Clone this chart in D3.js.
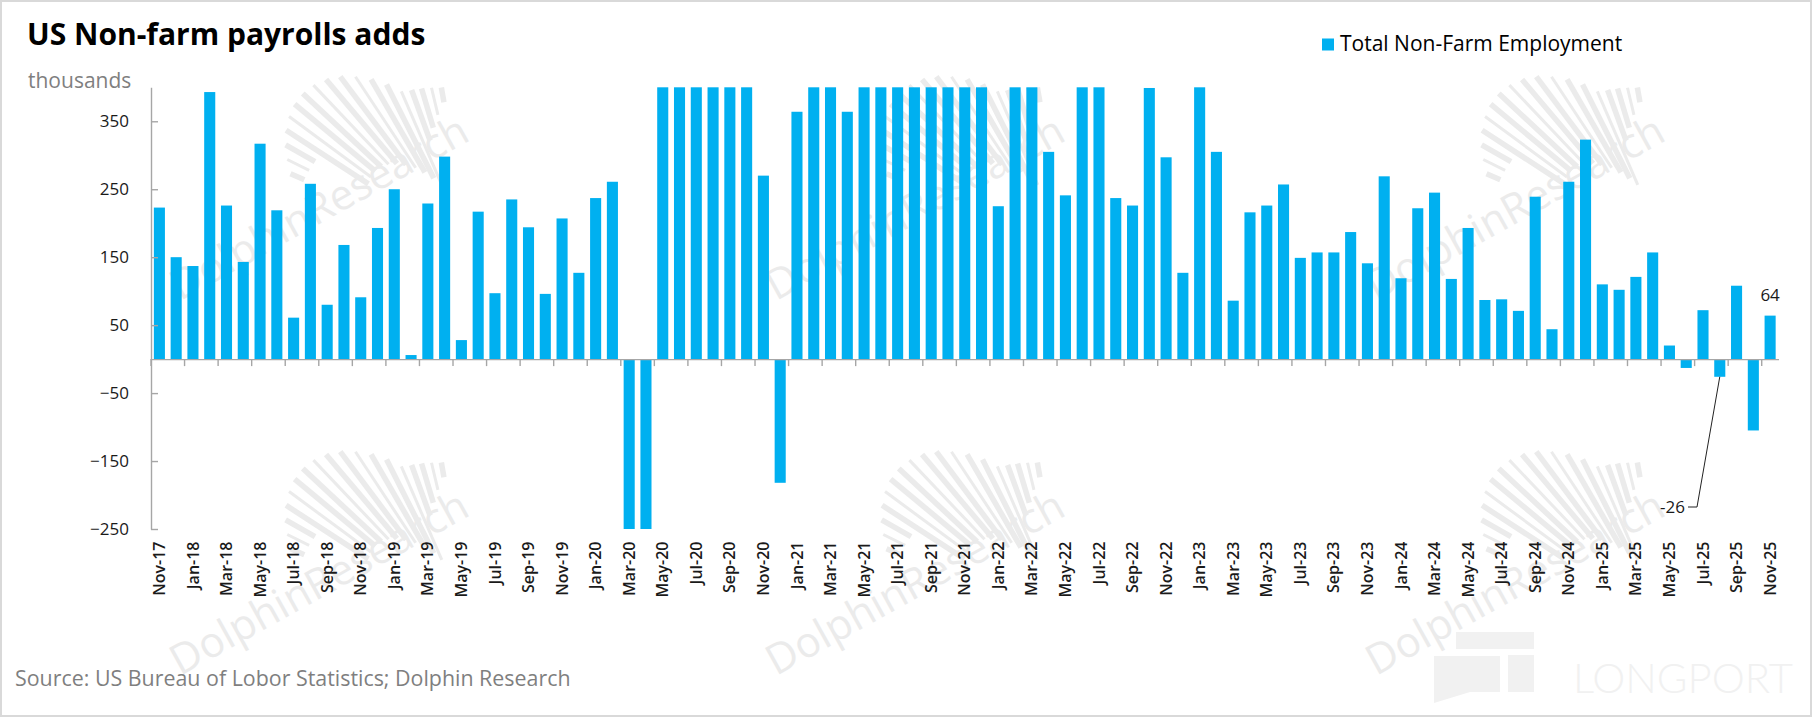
<!DOCTYPE html>
<html><head><meta charset="utf-8">
<script src="https://cdn.jsdelivr.net/npm/d3@7"></script>
<style>
body{margin:0;background:#fff;}
svg{display:block;font-family:"Open Sans",sans-serif;}
</style></head><body>
<svg id="chart" width="1812" height="717"></svg>
<script>
// ---------------- data ----------------
const categories = [
 "Nov-17","Dec-17",
 "Jan-18","Feb-18","Mar-18","Apr-18","May-18","Jun-18","Jul-18","Aug-18","Sep-18","Oct-18","Nov-18","Dec-18",
 "Jan-19","Feb-19","Mar-19","Apr-19","May-19","Jun-19","Jul-19","Aug-19","Sep-19","Oct-19","Nov-19","Dec-19",
 "Jan-20","Feb-20","Mar-20","Apr-20","May-20","Jun-20","Jul-20","Aug-20","Sep-20","Oct-20","Nov-20","Dec-20",
 "Jan-21","Feb-21","Mar-21","Apr-21","May-21","Jun-21","Jul-21","Aug-21","Sep-21","Oct-21","Nov-21","Dec-21",
 "Jan-22","Feb-22","Mar-22","Apr-22","May-22","Jun-22","Jul-22","Aug-22","Sep-22","Oct-22","Nov-22","Dec-22",
 "Jan-23","Feb-23","Mar-23","Apr-23","May-23","Jun-23","Jul-23","Aug-23","Sep-23","Oct-23","Nov-23","Dec-23",
 "Jan-24","Feb-24","Mar-24","Apr-24","May-24","Jun-24","Jul-24","Aug-24","Sep-24","Oct-24","Nov-24","Dec-24",
 "Jan-25","Feb-25","Mar-25","Apr-25","May-25","Jun-25","Jul-25","Aug-25","Sep-25","Oct-25","Nov-25"
];
// thousands; bars that run off the axis (Mar-20..Oct-20, most of 2021 etc.) are read as the axis limit (400 / -250)
const payrollAdds = [
 223,150,
 137,393,226,143,317,219,61,258,80,168,91,193,
 250,6,229,298,28,217,97,235,194,96,207,127,
 237,261,-250,-250,400,400,400,400,400,400,270,-182,
 364,400,400,364,400,400,400,400,400,400,400,400,
 225,400,400,305,241,400,400,237,226,399,297,127,
 400,305,86,216,226,257,149,157,157,187,141,269,
 119,222,245,118,193,87,88,71,239,44,261,323,
 110,102,121,157,20,-13,72,-26,108,-105,64
];
const yTickValues = [350,250,150,50,-50,-150,-250];
const yDomain = [-250,400];
const xTickLabels = categories.filter((d,i)=>i%2===0);
const seriesName = "Total Non-Farm Employment";
const titleText = "US Non-farm payrolls adds";
const unitText = "thousands";
const sourceText = "Source: US Bureau of Lobor Statistics; Dolphin Research";
const annotationCats = ["Aug-25","Nov-25"];
const annotationTexts = ["-26","64"];

// ---------------- layout ----------------
const W=1812,H=717;
const BLUE="#00B0F0", AXIS="#a6a6a6";
const svg=d3.select("#chart");
svg.append("rect").attr("width",W).attr("height",H).attr("fill","#fff");

const x=d3.scaleBand().domain(categories).range([151,1778.5]).paddingInner(0.34).paddingOuter(0.17);
const y=d3.scaleLinear().domain(yDomain).range([529,87.3]).clamp(true);

// ---------------- LONGPORT mark (behind everything) ----------------
const lp=svg.append("g").attr("fill","#f1f1f1");
lp.append("rect").attr("x",1456).attr("y",632).attr("width",78).attr("height",17);
lp.append("rect").attr("x",1434).attr("y",656).attr("width",66).attr("height",36);
lp.append("rect").attr("x",1508).attr("y",655).attr("width",26).attr("height",37);
lp.append("path").attr("d","M1434,692 L1470,692 L1434,703 Z");
lp.append("text").attr("x",1573).attr("y",693).attr("font-family","Lato, sans-serif").attr("font-weight",300)
  .attr("font-size",42).attr("textLength",220).attr("lengthAdjust","spacingAndGlyphs").text("LONGPORT");

// ---------------- watermarks ----------------
const wm=svg.append("g").attr("class","watermarks");
const colOff=[0,596,1196], rowOff=[0,375];
function drawMark(dx,dy){
  const g=wm.append("g").attr("transform",`translate(${dx},${dy})`);
  const cx=470, cy=250, n=18;
  for(let i=0;i<n;i++){
    const t=i/(n-1);
    const ang=(203+t*57)*Math.PI/180;
    const rOut=195+45*Math.sin(Math.PI*Math.min(1,t*1.3))-30*t;
    const len=(t<0.15?15+t*160:(t>0.82?15+(1-t)*220:85+25*Math.sin(Math.PI*t)));
    const rIn=rOut-len;
    g.append("line")
      .attr("x1",cx+rIn*Math.cos(ang)).attr("y1",cy+rIn*Math.sin(ang))
      .attr("x2",cx+rOut*Math.cos(ang)).attr("y2",cy+rOut*Math.sin(ang))
      .attr("stroke","#ebebeb").attr("stroke-width",i%3===1?3:5.5);
  }
  g.append("text").attr("transform","translate(318,206) rotate(-29)")
    .attr("text-anchor","middle").attr("dominant-baseline","central")
    .attr("font-size",42).attr("fill","#ebebeb").text("DolphinResearch");
}
rowOff.forEach(r=>colOff.forEach(c=>drawMark(c,r)));

// ---------------- bars ----------------
svg.append("g").selectAll("rect").data(categories).join("rect")
  .attr("x",d=>x(d)).attr("width",x.bandwidth())
  .attr("y",(d,i)=>y(Math.max(0,payrollAdds[i])))
  .attr("height",(d,i)=>Math.abs(y(payrollAdds[i])-y(0)))
  .attr("fill",BLUE);

// ---------------- axes ----------------
const yAx=svg.append("g").attr("transform","translate(151,0)")
  .call(d3.axisLeft(y).tickValues(yTickValues).tickSizeInner(-7).tickSizeOuter(0).tickPadding(22));
yAx.select(".domain").attr("stroke",AXIS).attr("stroke-width",1.4);
yAx.selectAll(".tick line").attr("stroke",AXIS).attr("stroke-width",1.4);
yAx.selectAll(".tick text").attr("font-size",17).attr("fill","#1a1a1a").attr("font-family","Open Sans, sans-serif");

const zAx=svg.append("g").attr("transform",`translate(0,${y(0)})`)
  .call(d3.axisBottom(x).tickValues(xTickLabels).tickSizeInner(7).tickSizeOuter(0).tickFormat(""));
zAx.select(".domain").attr("stroke",AXIS).attr("stroke-width",1.4);
zAx.selectAll(".tick line").attr("stroke",AXIS).attr("stroke-width",1.4)
  .attr("transform",`translate(${-x.step()/2},0)`);

const lAx=svg.append("g").attr("transform",`translate(0,${y(yDomain[0])})`)
  .call(d3.axisBottom(x).tickValues(xTickLabels).tickSize(0));
lAx.select(".domain").remove();
lAx.selectAll(".tick text").attr("transform","rotate(-90)").attr("x",-12.5).attr("y",0).attr("dy","0.35em")
  .style("text-anchor","end").attr("font-size",16).attr("font-weight",600).attr("fill","#1a1a1a")
  .attr("font-family","Open Sans, sans-serif");

// ---------------- annotations ----------------
{
  const c1=annotationCats[1], i1=categories.indexOf(c1);
  svg.append("text").attr("x",x(c1)+x.bandwidth()/2).attr("y",y(payrollAdds[i1])-15)
    .attr("text-anchor","middle").attr("font-size",17).attr("fill","#1a1a1a").text(annotationTexts[1]);
  const c0=annotationCats[0], i0=categories.indexOf(c0);
  const bx=x(c0)+x.bandwidth()/2, by=y(payrollAdds[i0]);
  const lx=1697, ly=507;
  svg.append("path").attr("d",`M${lx-9},${ly} L${lx},${ly} L${bx},${by}`).attr("fill","none").attr("stroke","#222").attr("stroke-width",1);
  svg.append("text").attr("x",lx-12).attr("y",ly+6).attr("text-anchor","end").attr("font-size",17).attr("fill","#1a1a1a").text(annotationTexts[0]);
}

// ---------------- titles / legend / source ----------------
svg.append("text").attr("x",27).attr("y",45).attr("font-size",30).attr("font-weight",700).attr("fill","#000").text(titleText);
svg.append("text").attr("x",28).attr("y",88).attr("font-size",21).attr("fill","#7f7f7f").text(unitText);
svg.append("rect").attr("x",1322).attr("y",38.5).attr("width",12).attr("height",12).attr("fill",BLUE);
svg.append("text").attr("x",1340).attr("y",51).attr("font-size",21).attr("fill","#000").text(seriesName);
svg.append("text").attr("x",15).attr("y",686).attr("font-size",21.4).attr("fill","#7f7f7f").text(sourceText);

// frame
svg.append("rect").attr("x",1).attr("y",1).attr("width",W-2).attr("height",H-2).attr("fill","none").attr("stroke","#d9d9d9").attr("stroke-width",2);
</script>
</body></html>
